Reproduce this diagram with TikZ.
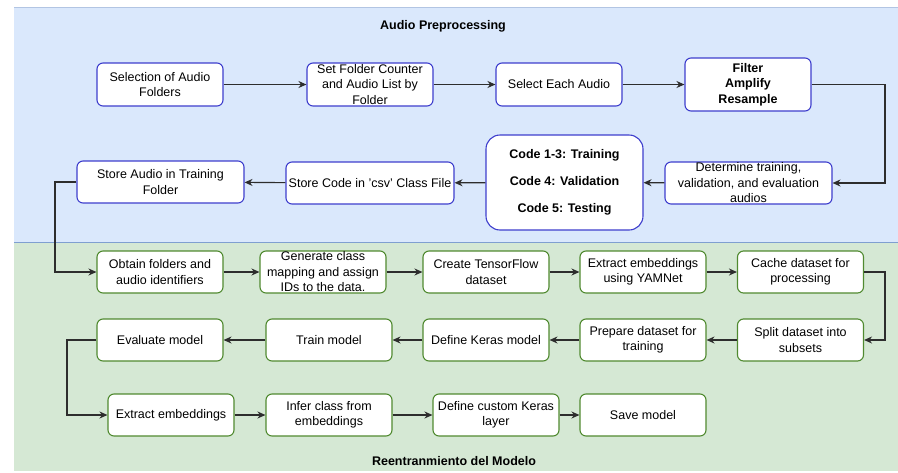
\documentclass[tikz,border=0pt]{standalone}
\usepackage{fontspec}
\setmainfont{Liberation Sans}
\usetikzlibrary{arrows.meta}

\definecolor{bandblue}{HTML}{DAE8FC}
\definecolor{bandblueline}{HTML}{7F9FD0}
\definecolor{bandgreen}{HTML}{D5E8D4}
\definecolor{boxblue}{RGB}{62,62,205}
\definecolor{boxgreen}{RGB}{80,138,48}
\definecolor{wire}{RGB}{45,45,45}

\tikzset{
  box/.style={draw, fill=white, rounded corners=6pt, line width=1.1pt,
    align=center, inner sep=0pt, minimum width=126pt, minimum height=42pt,
    font=\fontsize{12.5}{15.5}\selectfont},
  bbox/.style={box, draw=boxblue},
  gbox/.style={box, draw=boxgreen},
  arr/.style={draw=wire, line width=1.1pt, -{Stealth[length=8pt,width=7pt]}},
  band title/.style={font=\bfseries\fontsize{12.5}{15}\selectfont}
}

\begin{document}
\begin{tikzpicture}[x=1pt,y=-1pt]
\useasboundingbox (0,0) rectangle (898,472);

% background bands
\fill[bandblue] (14,7) rectangle (898,242);
\draw[bandblueline!60, line width=1pt] (14,7) -- (898,7);
\fill[bandgreen] (14,242) rectangle (898,471);
\draw[bandblueline, line width=1pt] (14,242) -- (898,242);

\node[band title] (t1) at (443,26) {Audio Preprocessing};
\node[band title] (t2) at (454,461) {Reentranmiento del Modelo};

% audio preprocessing steps
\node[bbox, minimum height=43pt] (sel) at (160,84.5) {Selection of Audio\\Folders};
\node[bbox, minimum height=43pt] (setf) at (370,84.5) {Set Folder Counter\\and Audio List by\\Folder};
\node[bbox, minimum height=43pt] (each) at (559,84.5) {Select Each Audio};
\node[bbox, minimum height=53pt, font=\bfseries\fontsize{12.5}{15.5}\selectfont] (filt) at (748,84.5) {Filter\\Amplify\\Resample};
\node[bbox, minimum width=167pt] (det) at (748.5,183) {Determine training,\\validation, and evaluation\\audios};
\node[bbox, minimum width=157pt, minimum height=95pt, rounded corners=14pt,
      font=\bfseries\fontsize{12.5}{27}\selectfont] (code) at (564.5,182.5)
      {Code 1-3: Training\\Code 4: Validation\\Code 5: Testing};
\node[bbox, minimum width=168pt] (csv) at (370,183) {Store Code in 'csv' Class File};
\node[bbox, minimum width=167pt] (store) at (160.5,182) {Store Audio in Training\\Folder};

% retraining steps
\node[gbox] (obt) at (160,272) {Obtain folders and\\audio identifiers};
\node[gbox] (gen) at (323,272) {Generate class\\mapping and assign\\IDs to the data.};
\node[gbox] (tfd) at (486,272) {Create TensorFlow\\dataset};
\node[gbox] (yam) at (643,272) {Extract embeddings\\using YAMNet};
\node[gbox] (cache) at (800.5,272) {Cache dataset for\\processing};

\node[gbox] (split) at (800.5,340) {Split dataset into\\subsets};
\node[gbox] (prep) at (643,340) {Prepare dataset for\\training};
\node[gbox] (keras) at (486,340) {Define Keras model};
\node[gbox] (train) at (329,340) {Train model};
\node[gbox] (eval) at (160,340) {Evaluate model};

\node[gbox] (emb) at (171,415) {Extract embeddings};
\node[gbox] (infer) at (329,415) {Infer class from\\embeddings};
\node[gbox] (layer) at (496,415) {Define custom Keras\\layer};
\node[gbox] (save) at (643,415) {Save model};

% routing columns for the bends
\coordinate (rcol) at (885,0);
\coordinate (lcolA) at (55,0);
\coordinate (lcolB) at (67,0);

% connectors, audio preprocessing
\draw[arr] (sel) -- (setf);
\draw[arr] (setf) -- (each);
\draw[arr] (each) -- (filt);
\draw[arr] (filt.east) -| (rcol |- det.east) -- (det.east);
\draw[arr] (det) -- (code);
\draw[arr] (code) -- (csv);
\draw[arr] (csv) -- (store);
\draw[arr] (store.west) -| (lcolA |- obt.west) -- (obt.west);

% connectors, retraining
\draw[arr] (obt) -- (gen);
\draw[arr] (gen) -- (tfd);
\draw[arr] (tfd) -- (yam);
\draw[arr] (yam) -- (cache);
\draw[arr] (cache.east) -| (rcol |- split.east) -- (split.east);
\draw[arr] (split) -- (prep);
\draw[arr] (prep) -- (keras);
\draw[arr] (keras) -- (train);
\draw[arr] (train) -- (eval);
\draw[arr] (eval.west) -| (lcolB |- emb.west) -- (emb.west);
\draw[arr] (emb) -- (infer);
\draw[arr] (infer) -- (layer);
\draw[arr] (layer) -- (save);
\end{tikzpicture}
\end{document}
